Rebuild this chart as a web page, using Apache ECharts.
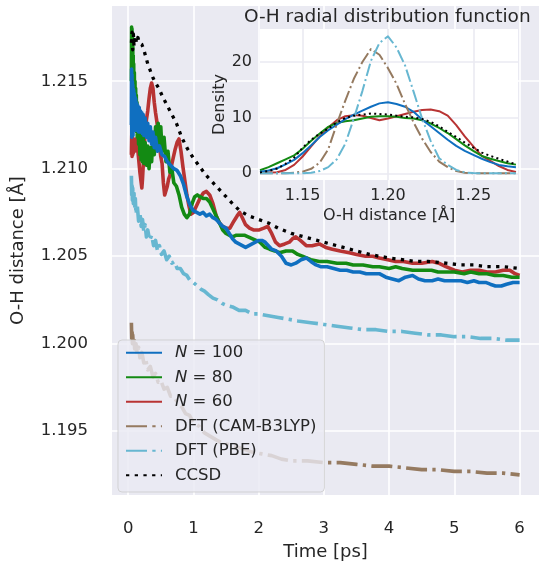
<!DOCTYPE html>
<html>
<head>
<meta charset="utf-8">
<script src="https://cdn.jsdelivr.net/npm/echarts@6/dist/echarts.min.js"></script>
<style>
  html, body { margin: 0; padding: 0; background: #fff; }
  #chart { width: 539px; height: 566px; }
</style>
</head>
<body>
<div id="chart"></div>
<script>
// main panel: O-H distance [Å] vs time [ps], pairs of [t, d]
const n100Data = [
  [0.05, 1.2125], [0.053, 1.2157], [0.056, 1.2118], [0.059, 1.2154], [0.062, 1.2120], [0.065, 1.2150],
  [0.068, 1.2122], [0.071, 1.2148], [0.074, 1.2119], [0.077, 1.2146], [0.08, 1.2122], [0.085, 1.2145],
  [0.09, 1.2124], [0.095, 1.2143], [0.10, 1.2126], [0.105, 1.2141], [0.11, 1.2122], [0.115, 1.2140],
  [0.12, 1.2124], [0.125, 1.2138], [0.13, 1.2122], [0.135, 1.2137], [0.14, 1.2123], [0.15, 1.2136],
  [0.16, 1.2121], [0.17, 1.2135], [0.18, 1.2122], [0.19, 1.2133], [0.20, 1.2121], [0.21, 1.2132],
  [0.22, 1.2120], [0.23, 1.2131], [0.24, 1.2119], [0.26, 1.2129], [0.28, 1.2118], [0.30, 1.2126],
  [0.32, 1.2116], [0.34, 1.2124], [0.36, 1.2114], [0.38, 1.2121], [0.40, 1.2112], [0.42, 1.2118],
  [0.45, 1.2110], [0.48, 1.2113], [0.52, 1.2108], [0.56, 1.2107], [0.60, 1.2104], [0.65, 1.2102],
  [0.70, 1.2100], [0.75, 1.2099], [0.80, 1.2096], [0.85, 1.2091], [0.90, 1.2084], [0.95, 1.2079],
  [1.00, 1.2076], [1.05, 1.2075], [1.10, 1.2074], [1.15, 1.2075], [1.20, 1.2073], [1.25, 1.2074],
  [1.30, 1.2072], [1.35, 1.2071], [1.40, 1.2069], [1.45, 1.2067], [1.50, 1.2066], [1.55, 1.2063],
  [1.60, 1.2060], [1.65, 1.2058], [1.70, 1.2057], [1.75, 1.2056], [1.80, 1.2055], [1.85, 1.2056],
  [1.90, 1.2057], [1.95, 1.2058], [2.00, 1.2059], [2.05, 1.2059], [2.10, 1.2058], [2.15, 1.2056],
  [2.20, 1.2054], [2.27, 1.2053], [2.35, 1.2050], [2.42, 1.2046], [2.50, 1.2045], [2.57, 1.2046],
  [2.65, 1.2048], [2.73, 1.2049], [2.80, 1.2047], [2.88, 1.2045], [2.95, 1.2044], [3.05, 1.2044],
  [3.15, 1.2043], [3.25, 1.2042], [3.35, 1.2042], [3.45, 1.2041], [3.55, 1.2041], [3.65, 1.2040],
  [3.75, 1.2040], [3.85, 1.2040], [3.95, 1.2038], [4.05, 1.2037], [4.15, 1.2036], [4.25, 1.2038],
  [4.36, 1.2039], [4.45, 1.2037], [4.55, 1.2036], [4.66, 1.2036], [4.75, 1.2037], [4.85, 1.2036],
  [4.97, 1.2036], [5.10, 1.2036], [5.20, 1.2035], [5.30, 1.2036], [5.38, 1.2035], [5.48, 1.2035],
  [5.55, 1.2034], [5.63, 1.2033], [5.72, 1.2033], [5.80, 1.2034], [5.90, 1.2035], [6.00, 1.2035]
]
const n80Data = [
  [0.05, 1.2150], [0.053, 1.2181], [0.056, 1.2155], [0.059, 1.2180], [0.062, 1.2152], [0.065, 1.2176],
  [0.068, 1.2148], [0.071, 1.2170], [0.074, 1.2143], [0.077, 1.2165], [0.08, 1.2140], [0.085, 1.2160],
  [0.09, 1.2136], [0.095, 1.2155], [0.10, 1.2132], [0.105, 1.2150], [0.11, 1.2128], [0.115, 1.2146],
  [0.12, 1.2125], [0.125, 1.2142], [0.13, 1.2121], [0.135, 1.2138], [0.14, 1.2118], [0.15, 1.2135],
  [0.16, 1.2114], [0.17, 1.2128], [0.18, 1.2108], [0.19, 1.2122], [0.20, 1.2105], [0.21, 1.2120],
  [0.22, 1.2104], [0.23, 1.2118], [0.24, 1.2103], [0.26, 1.2115], [0.28, 1.2102], [0.30, 1.2113],
  [0.32, 1.2100], [0.34, 1.2112], [0.36, 1.2104], [0.38, 1.2118], [0.40, 1.2108], [0.42, 1.2124],
  [0.44, 1.2112], [0.46, 1.2126], [0.48, 1.2114], [0.50, 1.2124], [0.52, 1.2110], [0.55, 1.2118],
  [0.58, 1.2104], [0.61, 1.2110], [0.64, 1.2098], [0.67, 1.2100], [0.70, 1.2092], [0.74, 1.2090],
  [0.78, 1.2085], [0.82, 1.2078], [0.86, 1.2074], [0.90, 1.2072], [0.94, 1.2074], [0.98, 1.2080],
  [1.02, 1.2084], [1.06, 1.2085], [1.10, 1.2084], [1.15, 1.2083], [1.20, 1.2083], [1.25, 1.2081],
  [1.30, 1.2077], [1.35, 1.2073], [1.40, 1.2069], [1.45, 1.2065], [1.50, 1.2063], [1.55, 1.2062],
  [1.60, 1.2061], [1.66, 1.2062], [1.72, 1.2062], [1.78, 1.2062], [1.84, 1.2061], [1.90, 1.2060],
  [1.96, 1.2059], [2.02, 1.2058], [2.10, 1.2055], [2.17, 1.2054], [2.25, 1.2053], [2.32, 1.2052],
  [2.42, 1.2053], [2.52, 1.2053], [2.60, 1.2051], [2.67, 1.2050], [2.80, 1.2048], [2.93, 1.2047],
  [3.05, 1.2047], [3.20, 1.2046], [3.34, 1.2046], [3.45, 1.2045], [3.60, 1.2045], [3.75, 1.2044],
  [3.85, 1.2044], [4.00, 1.2043], [4.10, 1.2044], [4.20, 1.2043], [4.36, 1.2042], [4.50, 1.2042],
  [4.65, 1.2042], [4.75, 1.2041], [4.87, 1.2041], [5.00, 1.2041], [5.15, 1.2040], [5.25, 1.2041],
  [5.38, 1.2040], [5.50, 1.2040], [5.62, 1.2039], [5.75, 1.2039], [5.88, 1.2038], [6.00, 1.2038]
]
const n60Data = [
  [0.05, 1.2108], [0.055, 1.2119], [0.06, 1.2107], [0.065, 1.2118], [0.07, 1.2108], [0.075, 1.2117],
  [0.08, 1.2109], [0.09, 1.2116], [0.10, 1.2110], [0.11, 1.2117], [0.12, 1.2111], [0.14, 1.2114],
  [0.16, 1.2106], [0.18, 1.2098], [0.20, 1.2092], [0.21, 1.2089], [0.22, 1.2094], [0.24, 1.2108],
  [0.26, 1.2120], [0.28, 1.2128], [0.30, 1.2133], [0.32, 1.2140], [0.34, 1.2146], [0.36, 1.2149],
  [0.38, 1.2146], [0.40, 1.2138], [0.42, 1.2132], [0.44, 1.2127], [0.46, 1.2120], [0.48, 1.2113],
  [0.50, 1.2107], [0.52, 1.2103], [0.54, 1.2092], [0.56, 1.2085], [0.58, 1.2084], [0.60, 1.2090],
  [0.62, 1.2094], [0.64, 1.2096], [0.66, 1.2101], [0.69, 1.2106], [0.72, 1.2111], [0.75, 1.2115],
  [0.78, 1.2117], [0.81, 1.2110], [0.84, 1.2101], [0.87, 1.2093], [0.90, 1.2085], [0.93, 1.2079],
  [0.96, 1.2074], [1.00, 1.2075], [1.05, 1.2079], [1.10, 1.2083], [1.15, 1.2086], [1.20, 1.2087],
  [1.25, 1.2085], [1.30, 1.2080], [1.35, 1.2073], [1.40, 1.2069], [1.45, 1.2067], [1.50, 1.2066],
  [1.56, 1.2066], [1.62, 1.2070], [1.67, 1.2073], [1.71, 1.2075], [1.75, 1.2072], [1.80, 1.2068],
  [1.86, 1.2066], [1.92, 1.2065], [2.01, 1.2065], [2.08, 1.2066], [2.14, 1.2067], [2.20, 1.2063],
  [2.26, 1.2058], [2.32, 1.2056], [2.40, 1.2057], [2.47, 1.2058], [2.52, 1.2060], [2.57, 1.2061],
  [2.64, 1.2059], [2.73, 1.2056], [2.82, 1.2056], [2.93, 1.2057], [3.03, 1.2055], [3.13, 1.2054],
  [3.25, 1.2053], [3.39, 1.2052], [3.50, 1.2051], [3.64, 1.2050], [3.75, 1.2050], [3.85, 1.2049],
  [3.98, 1.2048], [4.10, 1.2047], [4.22, 1.2047], [4.36, 1.2046], [4.50, 1.2046], [4.66, 1.2047],
  [4.76, 1.2046], [4.87, 1.2044], [5.00, 1.2042], [5.12, 1.2041], [5.25, 1.2042], [5.38, 1.2042],
  [5.50, 1.2041], [5.63, 1.2041], [5.75, 1.2042], [5.85, 1.2042], [5.93, 1.2040], [6.00, 1.2039]
]
const camData = [
  [0.05, 1.2012], [0.055, 1.2003], [0.06, 1.2008], [0.065, 1.2000], [0.07, 1.2005], [0.08, 1.1999],
  [0.09, 1.2003], [0.10, 1.1997], [0.12, 1.2000], [0.14, 1.1994], [0.16, 1.1998], [0.18, 1.1992],
  [0.21, 1.1995], [0.24, 1.1989], [0.27, 1.1991], [0.30, 1.1985], [0.34, 1.1987], [0.38, 1.1981],
  [0.42, 1.1983], [0.46, 1.1978], [0.50, 1.1979], [0.55, 1.1974], [0.60, 1.1975], [0.65, 1.1970],
  [0.70, 1.1970], [0.76, 1.1966], [0.82, 1.1964], [0.88, 1.1960], [0.94, 1.1959], [1.00, 1.1955],
  [1.08, 1.1953], [1.17, 1.1949], [1.26, 1.1947], [1.35, 1.1945], [1.45, 1.1943], [1.59, 1.1942],
  [1.75, 1.1940], [1.90, 1.1938], [2.05, 1.1937], [2.20, 1.1936], [2.35, 1.1934], [2.50, 1.1933],
  [2.75, 1.1933], [3.00, 1.1932], [3.25, 1.1932], [3.50, 1.1931], [3.75, 1.1930], [4.00, 1.1930],
  [4.25, 1.1929], [4.50, 1.1928], [4.75, 1.1928], [5.00, 1.1927], [5.25, 1.1927], [5.50, 1.1926],
  [5.75, 1.1926], [6.00, 1.1925]
]
const pbeData = [
  [0.05, 1.2096], [0.055, 1.2085], [0.06, 1.2092], [0.065, 1.2082], [0.07, 1.2089], [0.08, 1.2080],
  [0.09, 1.2086], [0.10, 1.2077], [0.11, 1.2083], [0.12, 1.2074], [0.14, 1.2079], [0.16, 1.2070],
  [0.18, 1.2075], [0.20, 1.2067], [0.22, 1.2071], [0.24, 1.2064], [0.26, 1.2068], [0.28, 1.2061],
  [0.30, 1.2065], [0.33, 1.2059], [0.36, 1.2062], [0.39, 1.2056], [0.42, 1.2059], [0.45, 1.2053],
  [0.48, 1.2056], [0.51, 1.2051], [0.55, 1.2053], [0.59, 1.2048], [0.63, 1.2050], [0.67, 1.2046],
  [0.71, 1.2047], [0.75, 1.2043], [0.80, 1.2043], [0.85, 1.2040], [0.90, 1.2039], [0.95, 1.2036],
  [1.00, 1.2035], [1.06, 1.2033], [1.12, 1.2031], [1.17, 1.2030], [1.23, 1.2028], [1.30, 1.2026],
  [1.37, 1.2025], [1.44, 1.2023], [1.50, 1.2022], [1.60, 1.2021], [1.70, 1.2019], [1.80, 1.2019],
  [1.90, 1.2017], [2.00, 1.2017], [2.15, 1.2016], [2.30, 1.2015], [2.45, 1.2014], [2.60, 1.2013],
  [2.80, 1.2012], [3.00, 1.2011], [3.20, 1.2010], [3.40, 1.2009], [3.60, 1.2008], [3.80, 1.2008],
  [4.00, 1.2007], [4.20, 1.2007], [4.40, 1.2006], [4.60, 1.2005], [4.80, 1.2005], [5.00, 1.2004],
  [5.20, 1.2004], [5.40, 1.2003], [5.60, 1.2003], [5.80, 1.2002], [6.00, 1.2002]
]
const ccsdData = [
  [0.05, 1.2172], [0.06, 1.2178], [0.07, 1.2168], [0.08, 1.2177], [0.09, 1.2170], [0.11, 1.2176],
  [0.13, 1.2172], [0.15, 1.2175], [0.17, 1.2172], [0.19, 1.2173], [0.21, 1.2171], [0.24, 1.2168],
  [0.27, 1.2164], [0.30, 1.2160], [0.34, 1.2156], [0.38, 1.2152], [0.42, 1.2149], [0.47, 1.2146],
  [0.53, 1.2141], [0.60, 1.2136], [0.67, 1.2131], [0.74, 1.2126], [0.82, 1.2118], [0.90, 1.2112],
  [1.00, 1.2106], [1.10, 1.2101], [1.20, 1.2096], [1.30, 1.2092], [1.40, 1.2088], [1.50, 1.2084],
  [1.60, 1.2080], [1.71, 1.2076], [1.85, 1.2073], [2.00, 1.2071], [2.15, 1.2069], [2.30, 1.2066],
  [2.50, 1.2063], [2.70, 1.2061], [2.90, 1.2059], [3.10, 1.2057], [3.30, 1.2055], [3.50, 1.2053],
  [3.70, 1.2051], [3.85, 1.2050], [4.00, 1.2049], [4.20, 1.2048], [4.40, 1.2047], [4.60, 1.2047],
  [4.87, 1.2046], [5.10, 1.2045], [5.30, 1.2045], [5.50, 1.2044], [5.75, 1.2044], [6.00, 1.2043]
]
const timeTicks = [0, 1, 2, 3, 4, 5, 6]
const distTicks = [1.195, 1.2, 1.205, 1.21, 1.215]

// inset: radial distribution (density) vs O-H distance [Å]
const rdfX = [
  1.125, 1.13, 1.135, 1.14, 1.145, 1.15, 1.155, 1.16, 1.165, 1.17, 1.175, 1.18, 1.185, 1.19, 1.195, 1.2,
  1.205, 1.21, 1.215, 1.22, 1.225, 1.23, 1.235, 1.24, 1.245, 1.25, 1.255, 1.26, 1.265, 1.27, 1.275
]
const rdfN100 = [0.28, 0.5, 0.9, 1.6, 2.4, 3.6, 5.0, 6.5, 7.7, 8.7, 9.7, 10.5, 11.2, 11.9, 12.5, 12.7,
  12.4, 11.9, 11.0, 9.6, 8.4, 7.2, 6.0, 4.9, 4.0, 3.3, 2.6, 2.0, 1.5, 1.25, 1.1]
const rdfN80 = [0.55, 1.1, 1.8, 2.5, 3.2, 4.4, 5.8, 7.1, 8.3, 9.0, 9.3, 9.5, 9.8, 10.1, 10.2, 10.2,
  10.1, 9.9, 9.8, 9.5, 8.9, 8.1, 7.2, 6.1, 5.0, 4.0, 3.1, 2.6, 2.2, 1.8, 1.55]
const rdfN60 = [0.06, 0.12, 0.2, 0.6, 1.5, 3.0, 4.8, 6.6, 8.2, 9.5, 10.2, 10.4, 10.3, 9.9, 9.5, 9.8,
  10.2, 10.6, 11.0, 11.3, 11.4, 11.1, 10.3, 8.6, 6.6, 4.8, 3.1, 2.2, 1.3, 0.6, 0.22]
const rdfCam = [0, 0, 0, 0.02, 0.1, 0.3, 0.8, 1.9, 4.3, 8.8, 13.0, 16.9, 19.9, 22.2, 21.2, 18.8,
  16.0, 12.4, 9.1, 6.2, 3.8, 2.1, 1.1, 0.4, 0.1, 0.02, 0, 0, 0, 0, 0]
const rdfPbe = [0, 0, 0, 0, 0, 0.02, 0.1, 0.4, 1.1, 2.5, 5.3, 9.8, 14.7, 20.1, 23.3, 24.5,
  22.5, 19.3, 14.6, 9.8, 5.8, 2.7, 1.5, 0.6, 0.15, 0.05, 0, 0, 0, 0, 0]
const rdfCcsd = [0.15, 0.4, 0.85, 1.7, 2.8, 4.6, 6.0, 7.1, 8.0, 9.1, 9.9, 10.3, 10.5, 10.7, 10.6, 10.5,
  10.3, 10.1, 10.0, 9.7, 9.2, 8.4, 7.4, 6.5, 5.5, 4.6, 3.7, 3.1, 2.6, 2.1, 1.6]
const rdfTicksX = [1.15, 1.2, 1.25]
const rdfTicksY = [0, 10, 20]

const FONT = 'DejaVu Sans'
const TEXT = '#262626'
const C_N100 = '#0f6fc0'
const C_N80 = '#138a13'
const C_N60 = '#b83333'
const C_CAM = '#957a60'
const C_PBE = '#67b7d1'
const C_CCSD = '#000000'

const pairs = (xs, ys) => xs.map((x, i) => [x, ys[i]])

const mkLine = (name, data, color, width, type, axisIdx, z) => ({
  name: name,
  type: 'line',
  xAxisIndex: axisIdx,
  yAxisIndex: axisIdx,
  data: data,
  symbol: 'none',
  z: z,
  lineStyle: { color: color, width: width, type: type, cap: 'butt', join: 'round' },
  itemStyle: { color: color }
})

const chart = echarts.init(document.getElementById('chart'))

const option = {
  animation: false,
  backgroundColor: '#ffffff',
  textStyle: { fontFamily: FONT, color: TEXT },
  title: {
    text: 'O-H radial distribution function',
    left: 244,
    top: 8,
    padding: 0,
    textStyle: { fontFamily: FONT, fontSize: 18.5, fontWeight: 'normal', color: TEXT }
  },
  legend: {
    orient: 'vertical',
    left: 118,
    top: 340,
    padding: [3, 8, 7, 7],
    itemGap: 5,
    itemWidth: 36,
    itemHeight: 14,
    z: 10,
    backgroundColor: 'rgba(234,234,242,0.8)',
    borderColor: 'rgba(204,204,204,0.8)',
    borderWidth: 1,
    borderRadius: 4,
    itemStyle: { opacity: 0 },
    data: ['N = 100', 'N = 80', 'N = 60', 'DFT (CAM-B3LYP)', 'DFT (PBE)', 'CCSD'],
    formatter: function (name) {
      if (name.indexOf('N = ') === 0) return '{i|N} = ' + name.slice(4)
      return name
    },
    textStyle: {
      fontFamily: FONT,
      fontSize: 16.5,
      color: TEXT,
      lineHeight: 19.5,
      padding: [0, 0, 0, 8],
      rich: { i: { fontStyle: 'italic', fontFamily: FONT, fontSize: 16.5, color: TEXT } }
    }
  },
  grid: [
    { left: 112, top: 6, width: 428, height: 492, show: true, backgroundColor: '#eaeaf2', borderWidth: 0, z: 0 },
    { left: 260, top: 29, width: 258, height: 151, show: true, backgroundColor: '#ffffff', borderWidth: 0, z: 5 }
  ],
  xAxis: [
    {
      type: 'value',
      gridIndex: 0,
      min: -0.2475,
      max: 6.2975,
      name: 'Time [ps]',
      nameLocation: 'middle',
      nameGap: 48,
      nameTextStyle: { fontFamily: FONT, fontSize: 18, color: TEXT },
      axisLine: { show: false },
      axisTick: { show: false, customValues: timeTicks },
      axisLabel: { customValues: timeTicks, margin: 25, fontFamily: FONT, fontSize: 16.5, color: TEXT },
      splitLine: { show: true, lineStyle: { color: '#ffffff', width: 1.6 } }
    },
    {
      type: 'value',
      gridIndex: 1,
      min: 1.125,
      max: 1.2762,
      z: 6,
      name: 'O-H distance [Å]',
      nameLocation: 'middle',
      nameGap: 28,
      nameTextStyle: { fontFamily: FONT, fontSize: 16, color: TEXT },
      axisLine: { show: false },
      axisTick: { show: false, customValues: rdfTicksX },
      axisLabel: {
        customValues: rdfTicksX,
        margin: 8,
        fontFamily: FONT,
        fontSize: 16,
        color: TEXT,
        formatter: v => v.toFixed(2)
      },
      splitLine: { show: true, lineStyle: { color: '#eaeaf2', width: 1.6 } }
    }
  ],
  yAxis: [
    {
      type: 'value',
      gridIndex: 0,
      min: 1.19135,
      max: 1.2193,
      name: 'O-H distance [Å]',
      nameLocation: 'middle',
      nameGap: 85,
      nameTextStyle: { fontFamily: FONT, fontSize: 18, color: TEXT },
      axisLine: { show: false },
      axisTick: { show: false, customValues: distTicks },
      axisLabel: {
        customValues: distTicks,
        margin: 24,
        fontFamily: FONT,
        fontSize: 16.5,
        color: TEXT,
        formatter: v => v.toFixed(3)
      },
      splitLine: { show: true, lineStyle: { color: '#ffffff', width: 1.6 } }
    },
    {
      type: 'value',
      gridIndex: 1,
      min: -1.2,
      max: 25.8,
      z: 6,
      name: 'Density',
      nameLocation: 'middle',
      nameGap: 32,
      nameTextStyle: { fontFamily: FONT, fontSize: 16, color: TEXT },
      axisLine: { show: false },
      axisTick: { show: false, customValues: rdfTicksY },
      axisLabel: { customValues: rdfTicksY, margin: 8, fontFamily: FONT, fontSize: 16, color: TEXT },
      splitLine: { show: true, lineStyle: { color: '#eaeaf2', width: 1.6 } }
    }
  ],
  series: [
    mkLine('N = 60', n60Data, C_N60, 3.6, 'solid', 0, 2),
    mkLine('N = 80', n80Data, C_N80, 3.6, 'solid', 0, 2),
    mkLine('N = 100', n100Data, C_N100, 3.6, 'solid', 0, 2),
    mkLine('DFT (CAM-B3LYP)', camData, C_CAM, 3.6, [21, 5.3, 3.3, 5.3], 0, 2),
    mkLine('DFT (PBE)', pbeData, C_PBE, 3.6, [21, 5.3, 3.3, 5.3], 0, 2),
    mkLine('CCSD', ccsdData, C_CCSD, 3.3, [3.3, 5.4], 0, 2),

    mkLine('N = 60', pairs(rdfX, rdfN60), C_N60, 2, 'solid', 1, 7),
    mkLine('N = 80', pairs(rdfX, rdfN80), C_N80, 2, 'solid', 1, 7),
    mkLine('N = 100', pairs(rdfX, rdfN100), C_N100, 2, 'solid', 1, 7),
    mkLine('DFT (CAM-B3LYP)', pairs(rdfX, rdfCam), C_CAM, 2, [12.8, 3.2, 2, 3.2], 1, 7),
    mkLine('DFT (PBE)', pairs(rdfX, rdfPbe), C_PBE, 2, [12.8, 3.2, 2, 3.2], 1, 7),
    mkLine('CCSD', pairs(rdfX, rdfCcsd), C_CCSD, 2, [2, 3.3], 1, 7)
  ]
}

chart.setOption(option)
</script>
</body>
</html>
